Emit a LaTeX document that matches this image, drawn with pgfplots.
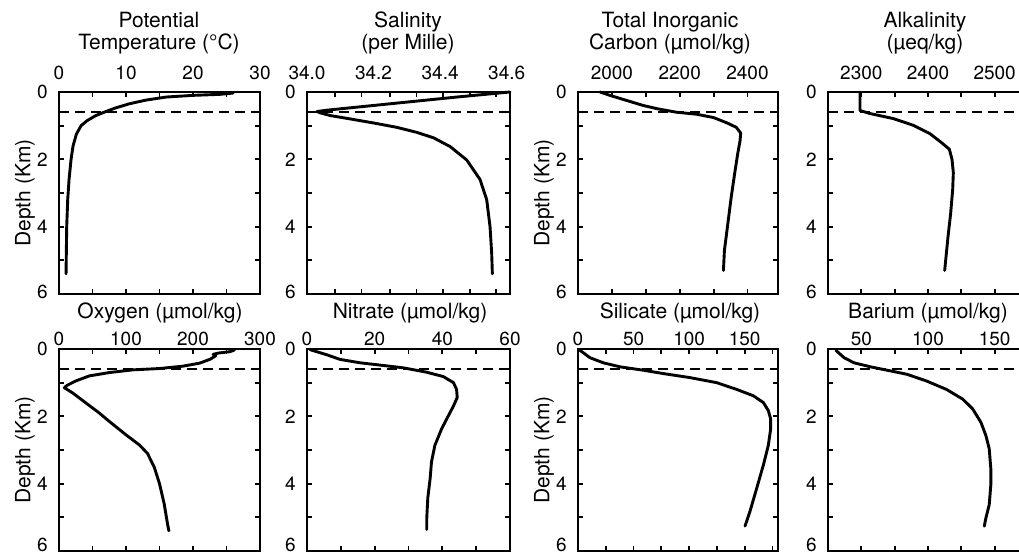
\documentclass[border=0pt]{standalone}
\usepackage{fontspec}
\setmainfont{TeX Gyre Heros}
\usepackage{pgfplots}
\pgfplotsset{compat=1.18}
\pgfplotsset{
 prof/.style={
  scale only axis, height=202pt, anchor=north west,
  y dir=reverse, ymin=0, ymax=6, ytick={0,1,...,6},
  xticklabel pos=upper,
  tick align=inside,
  axis line style={line width=2.3pt},
  major tick length=5pt, minor tick length=5pt,
  every major tick/.append style={black, line width=1.8pt},
  every minor tick/.append style={black, line width=1.8pt},
  tick label style={font=\fontsize{19}{21}\selectfont, inner sep=0pt},
  yticklabel style={anchor=east, xshift=-11pt},
  clip=false,
 },
 row1/.style={xticklabel style={anchor=base, yshift=12pt}, yticklabels={0,,2,,4,,\raisebox{4pt}{6}}},
 row2/.style={xticklabel style={anchor=base, yshift=4pt}, yticklabels={0,,2,,4,,\raisebox{13pt}{6}}},
 curve/.style={black, line width=2.9pt, line join=round, line cap=round},
 dash/.style={black, line width=1.9pt, dash pattern=on 10pt off 6pt},
}
\newcommand{\ttl}{\fontsize{21}{24}\selectfont}
\begin{document}
\begin{tikzpicture}
% ---------------- Row 1 ----------------
\begin{axis}[prof,row1,at={(59pt,462pt)},width=201pt,xmin=0,xmax=30,
  xtick={0,5,...,30},xticklabels={0,,10,,20,,30}]
\addplot[dash] coordinates {(0,0.6) (30,0.6)};
\addplot[curve] coordinates {(26,0.03) (24,0.07) (20,0.1) (16,0.15) (13,0.24) (10.5,0.35) (8.5,0.47) (7,0.58) (5.5,0.7) (4.2,0.85) (3.3,1.0) (2.6,1.25) (2.1,1.6) (1.8,2.0) (1.5,2.6) (1.3,3.2) (1.15,4.0) (1.05,5.4)};
\end{axis}
\begin{axis}[prof,row1,at={(307pt,462pt)},width=203pt,xmin=34,xmax=34.61,
  xtick={34,34.2,34.4,34.6},xticklabels={34.0,34.2,34.4,34.6},
  major tick length=0pt,
  minor xtick={34.085,34.164,34.249,34.329,34.409,34.489,34.569},
  minor ytick={1,2,3,4,5}]
\addplot[dash] coordinates {(34,0.6) (34.61,0.6)};
\addplot[curve] coordinates {(34.61,0.0) (34.45,0.15) (34.3,0.3) (34.15,0.45) (34.06,0.54) (34.03,0.58) (34.04,0.62) (34.07,0.7) (34.13,0.8) (34.2,0.92) (34.27,1.05) (34.33,1.2) (34.38,1.36) (34.43,1.62) (34.48,2.02) (34.52,2.6) (34.54,3.2) (34.55,4.0) (34.555,4.8) (34.557,5.4)};
\end{axis}
\begin{axis}[prof,row1,at={(578pt,462pt)},width=200pt,xmin=1900,xmax=2490,
  xtick={2000,2100,...,2400},xticklabels={2000,,2200,,2400}]
\addplot[dash] coordinates {(1900,0.6) (2490,0.6)};
\addplot[curve] coordinates {(1965,0.0) (1994,0.1) (2043,0.25) (2092,0.4) (2135,0.5) (2190,0.6) (2250,0.66) (2300,0.76) (2340,0.92) (2367,1.05) (2380,1.22) (2378,1.45) (2371,1.84) (2362,2.43) (2352,3.12) (2342,3.91) (2332,4.7) (2329,5.3)};
\end{axis}
\begin{axis}[prof,row1,at={(828pt,462pt)},width=200pt,xmin=2250,xmax=2550,
  xtick={2300,2350,...,2500},xticklabels={2300,,2400,,2500}]
\addplot[dash] coordinates {(2250,0.6) (2550,0.6)};
\addplot[curve] coordinates {(2298,0) (2298,0.55) (2313,0.64) (2348,0.79) (2378,0.99) (2403,1.24) (2420,1.5) (2432,1.7) (2436,2.0) (2438,2.4) (2437,2.9) (2434,3.6) (2430,4.3) (2425,5.3)};
\end{axis}
% ---------------- Row 2 ----------------
\begin{axis}[prof,row2,at={(59pt,205pt)},width=201pt,xmin=0,xmax=300,
  xtick={0,50,...,300},xticklabels={0,,100,,200,,300}]
\addplot[dash] coordinates {(0,0.6) (300,0.6)};
\addplot[curve] coordinates {(262,0.03) (255,0.08) (238,0.12) (230,0.16) (234,0.2) (226,0.3) (210,0.42) (185,0.51) (150,0.58) (110,0.62) (75,0.7) (45,0.8) (25,0.95) (12,1.08) (8,1.15) (20,1.3) (40,1.6) (60,1.9) (75,2.15) (100,2.55) (120,2.85) (132,3.1) (142,3.5) (150,4.0) (157,4.6) (162,5.2) (164,5.4)};
\end{axis}
\begin{axis}[prof,row2,at={(307pt,205pt)},width=203pt,xmin=0,xmax=60,
  xtick={0,10,...,60},xticklabels={0,,20,,40,,60}]
\addplot[dash] coordinates {(0,0.6) (60,0.6)};
\addplot[curve] coordinates {(0.9,0.02) (5.8,0.17) (9.8,0.31) (15.7,0.41) (22.6,0.49) (28.5,0.56) (35.4,0.69) (40.3,0.82) (43.3,1.0) (44.2,1.2) (44.4,1.44) (43.3,1.69) (41.8,1.98) (39.8,2.37) (37.8,2.86) (36.8,3.35) (36.4,3.84) (35.7,4.43) (35.4,5.02) (35.4,5.36)};
\end{axis}
\begin{axis}[prof,row2,at={(578pt,205pt)},width=200pt,xmin=0,xmax=180,
  xtick={0,25,...,175},xticklabels={0,,50,,100,,150,}]
\addplot[dash] coordinates {(0,0.6) (180,0.6)};
\addplot[curve] coordinates {(1.8,0.04) (10.8,0.26) (22.8,0.41) (37.8,0.53) (58.8,0.63) (76.8,0.73) (100.8,0.85) (124.8,1.0) (142.8,1.2) (157.8,1.39) (166.8,1.59) (171.3,1.83) (173.4,2.08) (173.4,2.37) (171.3,2.86) (166.8,3.45) (160.8,4.14) (154.8,4.82) (150.3,5.26)};
\end{axis}
\begin{axis}[prof,row2,at={(828pt,205pt)},width=200pt,xmin=25,xmax=175,
  xtick={25,50,...,175},xticklabels={,50,,100,,150,}]
\addplot[dash] coordinates {(25,0.6) (175,0.6)};
\addplot[curve] coordinates {(30.9,0.04) (37.1,0.26) (44.5,0.41) (56.9,0.53) (69.3,0.63) (84.1,0.75) (98.9,0.95) (113.8,1.2) (126.1,1.49) (133.5,1.78) (139.7,2.18) (143.4,2.57) (145.9,2.96) (147.1,3.55) (147.1,4.04) (145.9,4.63) (143.4,5.02) (142.2,5.26)};
\end{axis}
% ---------------- Titles & labels ----------------
\node[font=\ttl,anchor=base] at (159pt,526pt) {Potential};
\node[font=\ttl,anchor=base] at (159pt,504pt) {Temperature (°C)};
\node[font=\ttl,anchor=base] at (408pt,526pt) {Salinity};
\node[font=\ttl,anchor=base] at (408pt,504pt) {(per Mille)};
\node[font=\ttl,anchor=base] at (670pt,526pt) {Total Inorganic};
\node[font=\ttl,anchor=base] at (670pt,504pt) {Carbon (µmol/kg)};
\node[font=\ttl,anchor=base] at (925pt,526pt) {Alkalinity};
\node[font=\ttl,anchor=base] at (925pt,504pt) {(µeq/kg)};
\node[font=\ttl,anchor=base] at (160pt,235pt) {Oxygen (µmol/kg)};
\node[font=\ttl,anchor=base] at (410pt,235pt) {Nitrate (µmol/kg)};
\node[font=\ttl,anchor=base] at (680pt,235pt) {Silicate (µmol/kg)};
\node[font=\ttl,anchor=base] at (928pt,235pt) {Barium (µmol/kg)};
\node[font=\ttl,rotate=90] at (25pt,361pt) {Depth (Km)};
\node[font=\ttl,rotate=90] at (25pt,104pt) {Depth (Km)};
\node[font=\ttl,rotate=90] at (544pt,361pt) {Depth (Km)};
\node[font=\ttl,rotate=90] at (544pt,104pt) {Depth (Km)};
\pgfresetboundingbox
\useasboundingbox (0pt,0pt) rectangle (1019pt,554pt);
\end{tikzpicture}
\end{document}
